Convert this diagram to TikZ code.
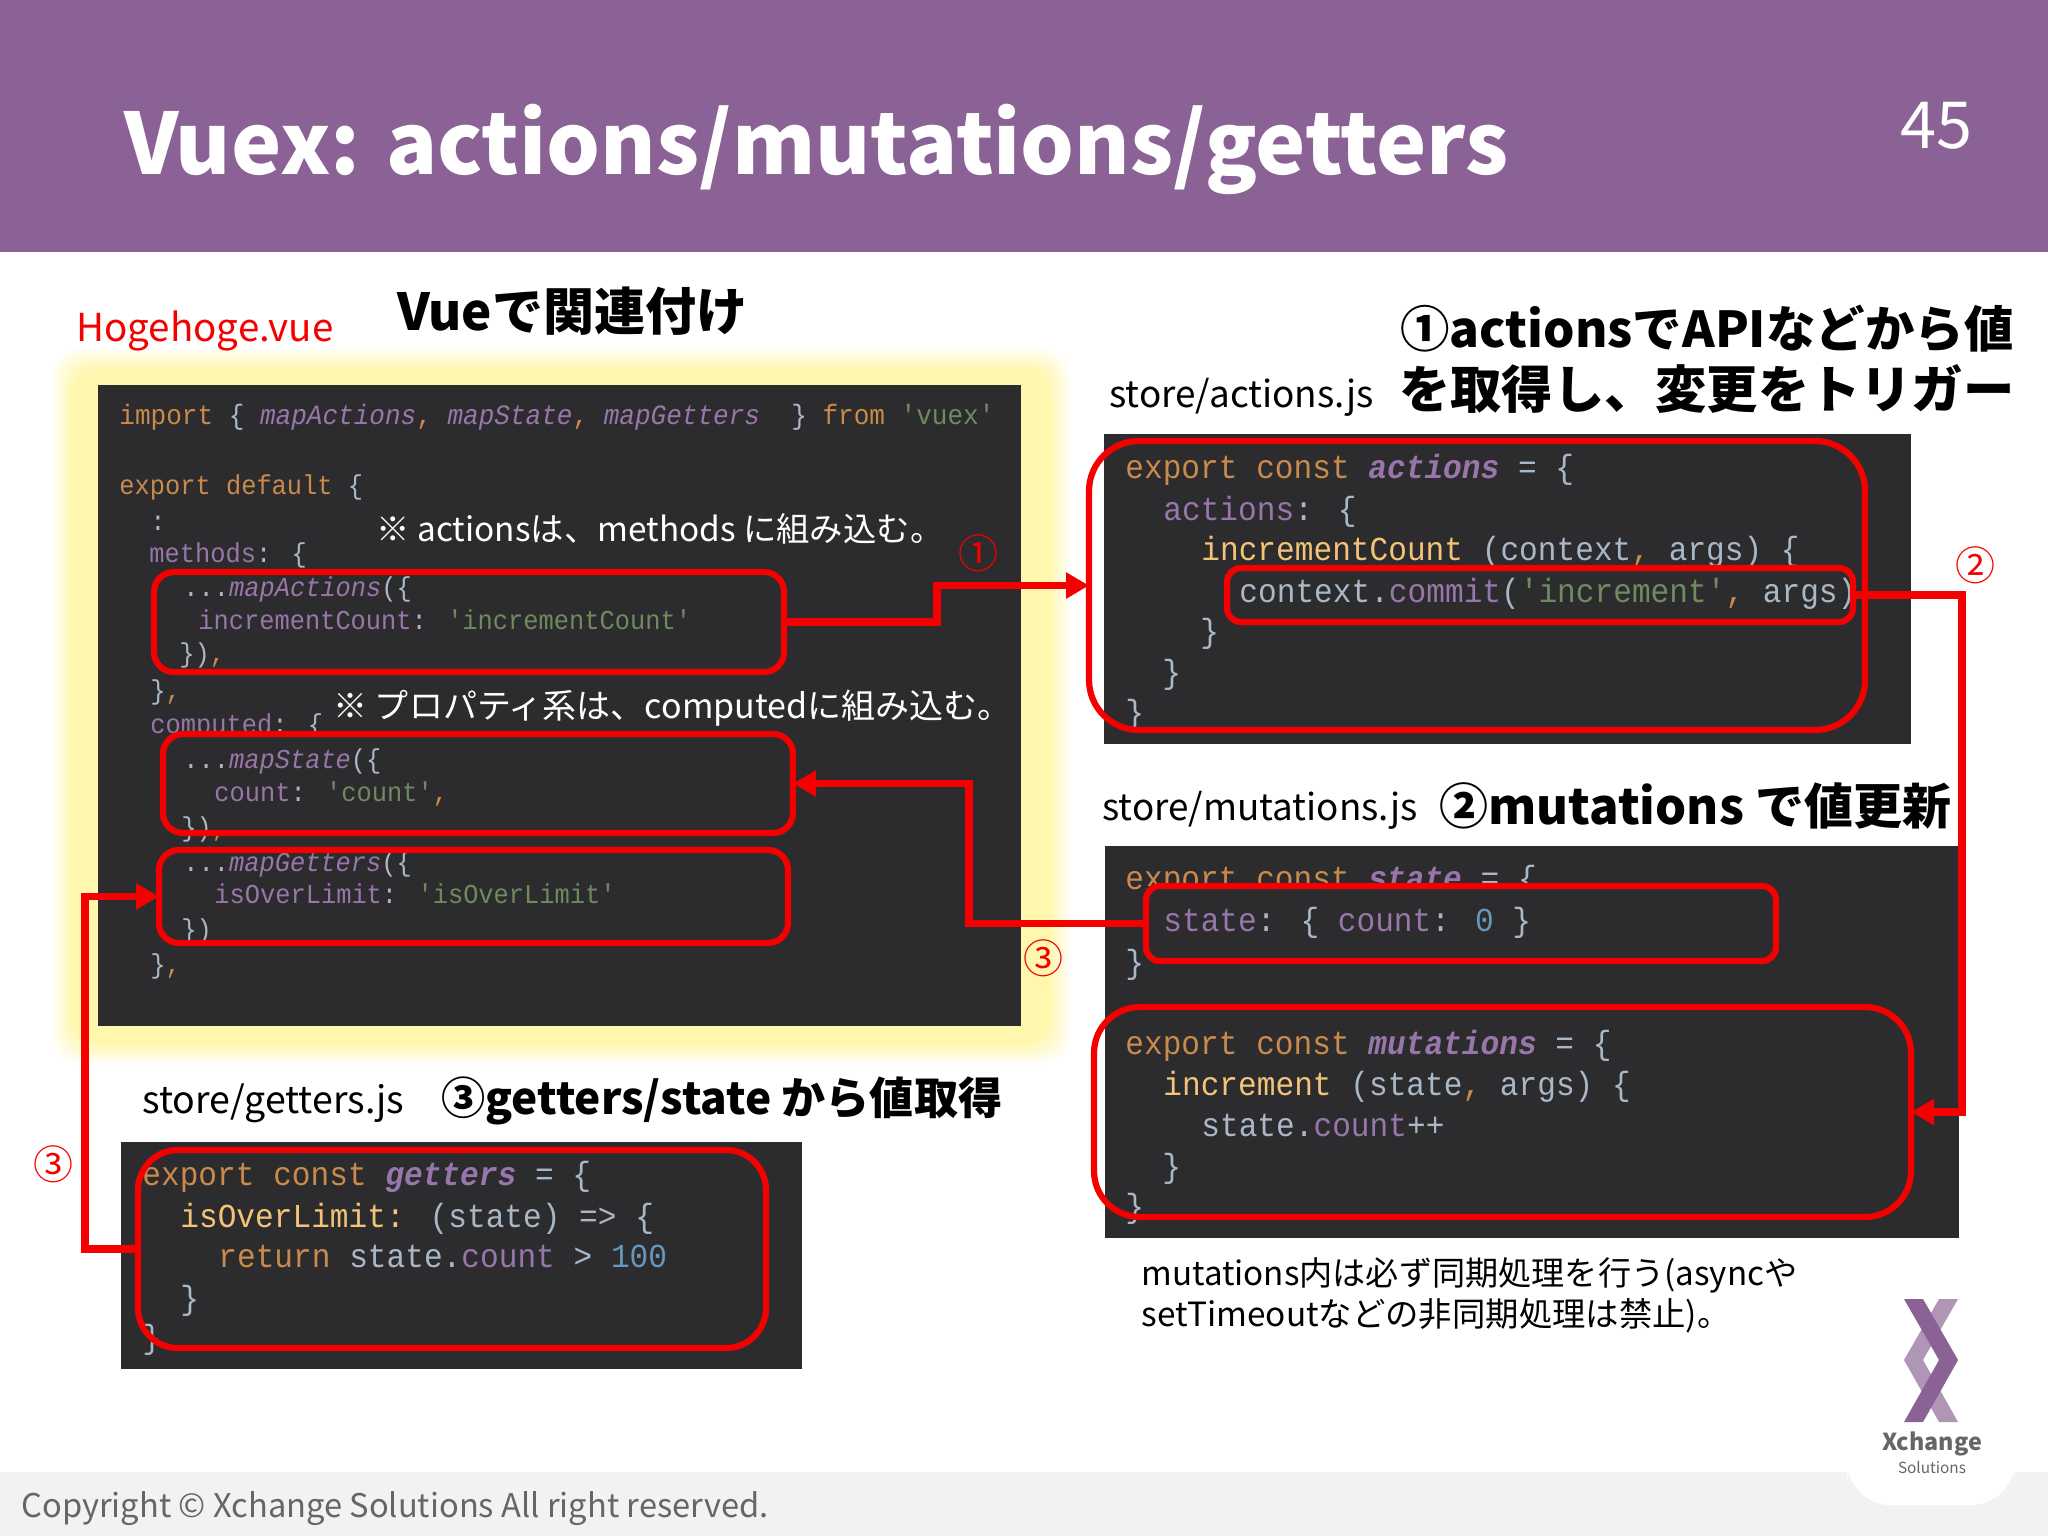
\documentclass[tikz,border=0pt]{standalone}
\usepackage{fontspec}
\usepackage{graphicx}
\usetikzlibrary{arrows.meta}
\setmainfont{Noto Sans CJK JP}
\newfontfamily\codefont[FakeStretch=0.93]{Liberation Mono}
\newlength\unitpx \setlength\unitpx{0.5pt}
\newcommand\fitw[2]{\resizebox{#1\unitpx}{!}{#2}}
\newcommand\fs[1]{\fontsize{#1}{#1}\selectfont}
\definecolor{headcol}{HTML}{8B6295}
\definecolor{footcol}{HTML}{F2F2F5}
\definecolor{panelcol}{HTML}{2C2C2E}
\definecolor{redline}{HTML}{F50000}
\definecolor{glowcol}{HTML}{FFF7AE}
\definecolor{logolight}{HTML}{AE96B4}
\definecolor{codeK}{HTML}{C98A4B}
\definecolor{codeF}{HTML}{9876AA}
\definecolor{codeS}{HTML}{71895F}
\definecolor{codeP}{HTML}{A9B7C6}
\definecolor{codeY}{HTML}{F3C478}
\definecolor{codeN}{HTML}{6897BB}
\newcommand\cK[1]{\textcolor{codeK}{#1}}
\newcommand\cI[1]{\textcolor{codeF}{\textit{#1}}}
\newcommand\cB[1]{\textcolor{codeF}{\textbf{\textit{#1}}}}
\newcommand\cF[1]{\textcolor{codeF}{#1}}
\newcommand\cS[1]{\textcolor{codeS}{#1}}
\newcommand\cY[1]{\textcolor{codeY}{#1}}
\newcommand\cN[1]{\textcolor{codeN}{#1}}
\tikzset{
  smallcode/.style={anchor=base west,inner sep=0pt,text=codeP,font=\codefont\fs{13.65}},
  bigcode/.style={anchor=base west,inner sep=0pt,text=codeP,font=\codefont\fs{16.75}},
  panel/.style={fill=panelcol},
  bx/.style 2 args={minimum width=#1*0.5pt,minimum height=#2*0.5pt,inner sep=0pt,outer sep=0pt},
  redbox/.style={draw=redline,line width=3.1pt},
  hidebox/.style={fill=panelcol},
  conn/.style={draw=redline,line width=3.7pt,-{Triangle[length=11.5pt,width=12.5pt]}},
  lab/.style={anchor=west,inner sep=0pt,text=black,font=\fs{20}},
  head/.style={anchor=west,inner sep=0pt,text=black,font=\bfseries\fs{25}},
  note/.style={anchor=west,inner sep=0pt,text=white,font=\fs{20}},
  circ/.style={inner sep=0pt,text=redline,font=\fs{20}}
}
\begin{document}
\begin{tikzpicture}[x=0.5pt,y=-0.5pt]
\useasboundingbox (0,0) rectangle (2048,1536);
\fill[white] (0,0) rectangle (2048,1536);
% header and footer
\fill[headcol] (0,0) rectangle (2048,252);
\fill[footcol] (0,1472) rectangle (2048,1536);
\fill[white,rounded corners=22pt] (1847,1440) rectangle (2015,1505);
\node[anchor=west,inner sep=0pt,text=white,font=\bfseries\fs{45}] (title) at (124,149) {\fitw{1384}{Vuex: actions/mutations/getters}};
\node[anchor=west,inner sep=0pt,text=white,font=\fs{31}] (pageno) at (1900,126) {\fitw{72}{45}};
\node[anchor=west,inner sep=0pt,text=black!60,font=\fs{18}] (copy) at (21,1509) {\fitw{747}{Copyright © Xchange Solutions All right reserved.}};
% logo
\fill[logolight] (1958,1299) -- (1939,1299) -- (1904,1360) -- (1939,1422) -- (1958,1422) -- (1923,1360) -- cycle;
\fill[headcol] (1904,1299) -- (1923,1299) -- (1958,1360) -- (1923,1422) -- (1904,1422) -- (1939,1360) -- cycle;
\node[inner sep=0pt,text=black!60,font=\bfseries\fs{13}] (logoa) at (1932,1444) {\fitw{100}{Xchange}};
\node[inner sep=0pt,text=black!60,font=\fs{8}] (logob) at (1932,1467) {\fitw{68}{Solutions}};
% glow
\foreach \i in {0,...,14}{
  \pgfmathtruncatemacro\p{\i*100/14}
  \fill[glowcol!\p!white,rounded corners=14pt] ({50+1.6*\i},{346+1.6*\i}) rectangle ({1072-1.6*\i},{1066-1.6*\i});
}
% panels
\fill[panel] (98,385) rectangle (1021,1026);
\fill[panel] (1104,434) rectangle (1911,744);
\fill[panel] (1105,846) rectangle (1959,1238);
\fill[panel] (121,1142) rectangle (802,1369);
% Hogehoge code
\node[smallcode,font=\codefont\fs{14}] (h1) at (119,424) {\cK{import} \{ \cI{mapActions}\cK{,} \cI{mapState}\cK{,} \cI{mapGetters}~ \} \cK{from} \cS{'vuex'}};
\node[smallcode] (h2) at (119,494) {\cK{export default} \{};
\node[smallcode] (h3) at (150,530) {:};
\node[smallcode] (h4) at (149,562) {\cF{methods}: \{};
\node[smallcode] (h8) at (150,699) {\}\cK{,}};
\node[smallcode] (h9) at (150,733) {\cF{computed}: \{};
\node[hidebox,bx={630}{99}] (b2bg) at (478,783.5) {};
\node[smallcode] (h5) at (183,596) {...\cI{mapActions}(\{};
\node[smallcode] (h6) at (198,629) {\cF{incrementCount}: \cS{'incrementCount'}};
\node[smallcode] (h7) at (179,662) {\})\cK{,}};
\node[smallcode] (h10) at (183,768) {...\cI{mapState}(\{};
\node[smallcode] (h11) at (214,801) {\cF{count}: \cS{'count'}\cK{,}};
\node[smallcode] (h12) at (181,836) {\})\cK{,}};
\node[smallcode] (h13) at (183,871) {...\cI{mapGetters}(\{};
\node[smallcode] (h14) at (214,903) {\cF{isOverLimit}: \cS{'isOverLimit'}};
\node[smallcode] (h15) at (181,938) {\})};
\node[smallcode] (h16) at (150,973) {\}\cK{,}};
% actions code
\node[bigcode] (a1) at (1125,478) {\cK{export const} \cB{actions} = \{};
\node[bigcode] (a2) at (1163,520) {\cF{actions}: \{};
\node[bigcode] (a3) at (1201,560) {\cY{incrementCount} (context\cK{,} args) \{};
\node[bigcode] (a4) at (1239,602) {context.\cF{commit}(\cS{'increment'}\cK{,} args)};
\node[bigcode] (a5) at (1200,642) {\}};
\node[bigcode] (a6) at (1162,683) {\}};
\node[bigcode] (a7) at (1125,723) {\}};
% mutations code
\node[bigcode] (m1) at (1125,889) {\cK{export const} \cB{state} = \{};
\node[hidebox,bx={630}{75}] (stbg) at (1461,923.5) {};
\node[bigcode] (m2) at (1163,931) {\cF{state}: \{ \cF{count}: \cN{0} \}};
\node[bigcode] (m3) at (1125,973) {\}};
\node[bigcode] (m4) at (1125,1054) {\cK{export const} \cB{mutations} = \{};
\node[bigcode] (m5) at (1163,1095) {\cY{increment} (state\cK{,} args) \{};
\node[bigcode] (m6) at (1201,1136) {state.\cF{count}++};
\node[bigcode] (m7) at (1162,1177) {\}};
\node[bigcode] (m8) at (1125,1217) {\}};
% getters code
\node[bigcode] (g1) at (142,1185) {\cK{export const} \cB{getters} = \{};
\node[bigcode] (g2) at (180,1227) {\cY{isOverLimit:} (state) => \{};
\node[bigcode] (g3) at (218,1267) {\cK{return} state.\cF{count} > \cN{100}};
\node[bigcode] (g4) at (180,1309) {\}};
\node[bigcode] (g5) at (142,1348) {\}};
% red boxes
\node[redbox,bx={630}{100},rounded corners=10pt] (b1) at (469,622) {};
\node[redbox,bx={630}{99},rounded corners=10pt] (b2) at (478,783.5) {};
\node[redbox,bx={629}{93},rounded corners=10pt] (b3) at (473.5,896.5) {};
\node[redbox,bx={776}{289},rounded corners=25pt] (act) at (1477,585.5) {};
\node[redbox,bx={626}{54},rounded corners=7pt] (com) at (1540,595) {};
\node[redbox,bx={630}{75},rounded corners=7pt] (stt) at (1461,923.5) {};
\node[redbox,bx={817}{210},rounded corners=23pt] (mut) at (1502.5,1112) {};
\node[redbox,bx={628}{198},rounded corners=20pt] (get) at (452,1249) {};
% connectors
\coordinate (c1) at (937,600);
\coordinate (c2) at (1962,850);
\coordinate (c3) at (969,850);
\coordinate (c4) at (85,1050);
\draw[conn] (b1.east) -| (c1) |- (act.west);
\draw[conn] (com.east) -| (c2) |- (mut.east);
\draw[conn] (stt.west) -| (c3) |- (b2.east);
\draw[conn] (get.west) -| (c4) |- (b3.west);
% labels
\node[lab,text=redline] (hoge) at (76,331) {\fitw{257}{Hogehoge.vue}};
\node[head] (hvue) at (397,311) {\fitw{350}{Vueで関連付け}};
\node[head] (h1a) at (1400,329) {\fitw{613}{①actionsでAPIなどから値}};
\node[head] (h1b) at (1399,389) {\fitw{615}{を取得し、変更をトリガー}};
\node[lab] (sa) at (1109,397) {\fitw{264}{store/actions.js}};
\node[lab] (sm) at (1102,810) {\fitw{315}{store/mutations.js}};
\node[head] (h2a) at (1439,806) {\fitw{512}{②mutations で値更新}};
\node[lab] (sg) at (142,1103) {\fitw{262}{store/getters.js}};
\node[head] (h3a) at (441,1101) {\fitw{561}{③getters/state から値取得}};
\node[note] (n1) at (376,529) {\fitw{567}{※ actionsは、methods に組み込む。}};
\node[note] (n2) at (333,708) {\fitw{678}{※ プロパティ系は、computedに組み込む。}};
\node[lab] (n3) at (1141,1275) {\fitw{656}{mutations内は必ず同期処理を行う(asyncや}};
\node[lab] (n4) at (1141,1316) {\fitw{589}{setTimeoutなどの非同期処理は禁止)。}};
\node[circ] (k1) at (978,553) {①};
\node[circ] (k2) at (1975,565) {②};
\node[circ] (k3) at (1043,958) {③};
\node[circ] (k4) at (53,1164) {③};
\end{tikzpicture}
\end{document}
